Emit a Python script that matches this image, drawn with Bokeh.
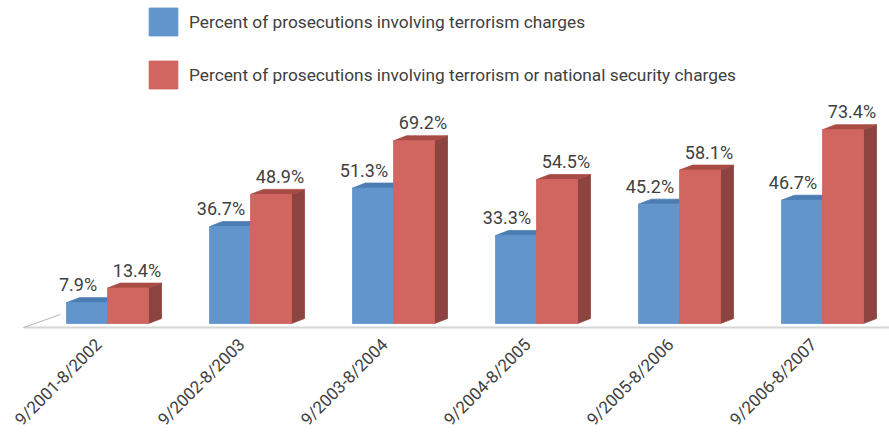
from math import pi
from bokeh.plotting import figure
from bokeh.models import ColumnDataSource, Legend, LegendItem, Range1d
from bokeh.core.properties import value
from bokeh.embed import file_html
from bokeh.resources import INLINE

# ---------------- data ----------------
categories = ["9/2001-8/2002", "9/2002-8/2003", "9/2003-8/2004",
              "9/2004-8/2005", "9/2005-8/2006", "9/2006-8/2007"]
terrorism = [7.9, 36.7, 51.3, 33.3, 45.2, 46.7]
terror_or_natsec = [13.4, 48.9, 69.2, 54.5, 58.1, 73.4]
series_names = ["Percent of prosecutions involving terrorism charges",
                "Percent of prosecutions involving terrorism or national security charges"]

# ---------------- geometry / style ----------------
W, H = 889, 434
PX_X = 143.0          # pixels per category
PX_Y = 2.64           # pixels per percent
X0 = 107.0            # first category centre, px from left of figure
Y0 = 323.0            # zero line, px from top of figure
FONT = "Roboto"
TXT = "#404040"

bw = 41 / PX_X        # bar width
ddx = 13 / PX_X       # depth offset x
ddy = 5 / PX_Y        # depth offset y

p = figure(width=W, height=H, title=None, output_backend="svg", toolbar_location=None,
           x_range=Range1d(-X0 / PX_X, (W - X0) / PX_X),
           y_range=Range1d(-(H - Y0) / PX_Y, Y0 / PX_Y),
           min_border=0, outline_line_color=None)
p.axis.visible = False
p.grid.visible = False
p.background_fill_color = "white"
p.border_fill_color = "white"

n = len(categories)
idx = list(range(n))

# ---------------- floor ----------------
fy = -4 / PX_Y
fx0 = -84 / PX_X
fx1 = (n - 1) + 777 / PX_X
fdx, fdy = 37 / PX_X, 13 / PX_Y
p.line([fx0, fx1], [fy, fy], line_color="#d6d6d6", line_width=2)
p.line([fx0, fx0 + fdx], [fy, fy + fdy], line_color="#b4b4b4", line_width=1)
p.line([fx1, fx1 + fdx], [fy, fy + fdy], line_color="#b4b4b4", line_width=1)

# ---------------- 3D bars ----------------
def draw_series(vals, offset, front, top, side):
    xc = [i + offset for i in idx]
    side_src = ColumnDataSource(dict(
        xs=[[x + bw / 2, x + bw / 2 + ddx, x + bw / 2 + ddx, x + bw / 2] for x in xc],
        ys=[[0, ddy, v + ddy, v] for v in vals]))
    top_src = ColumnDataSource(dict(
        xs=[[x - bw / 2, x + bw / 2, x + bw / 2 + ddx, x - bw / 2 + ddx] for x in xc],
        ys=[[v, v, v + ddy, v + ddy] for v in vals]))
    p.patches("xs", "ys", source=side_src, fill_color=side, line_color=side, line_width=0.8)
    p.patches("xs", "ys", source=top_src, fill_color=top, line_color=top, line_width=0.8)
    r = p.vbar(x=xc, top=vals, bottom=0, width=bw, fill_color=front,
               line_color=front, line_width=0.8)
    return r

blue = draw_series(terrorism, -bw / 2, "#6195cb", "#4b7cb2", "#3e6898")
red = draw_series(terror_or_natsec, bw / 2, "#d1655f", "#a94b45", "#8d4440")

# ---------------- value labels ----------------
lab_off = 9 / PX_X
lab_dy = 18 / PX_Y
p.text(x=[i - bw / 2 - lab_off for i in idx], y=[v + lab_dy for v in terrorism],
       text=[f"{v:.1f}%" for v in terrorism], text_align="center",
       text_baseline="alphabetic", text_font=value(FONT), text_font_size="18px",
       text_color=TXT)
p.text(x=[i + bw / 2 + lab_off for i in idx], y=[v + lab_dy for v in terror_or_natsec],
       text=[f"{v:.1f}%" for v in terror_or_natsec], text_align="center",
       text_baseline="alphabetic", text_font=value(FONT), text_font_size="18px",
       text_color=TXT)

# ---------------- category labels ----------------
p.text(x=[i - 9 / PX_X for i in idx], y=[-18 / PX_Y] * n, text=categories,
       angle=pi / 4, text_align="right", text_baseline="middle",
       text_font=value(FONT), text_font_size="17px", text_color=TXT)

# ---------------- legend ----------------
legend = Legend(items=[LegendItem(label=series_names[0], renderers=[blue]),
                       LegendItem(label=series_names[1], renderers=[red])],
                location=(145, 342), orientation="vertical",
                glyph_width=36, glyph_height=35, label_height=35, spacing=18,
                label_standoff=8, padding=0, margin=0,
                border_line_color=None, background_fill_alpha=0,
                label_text_font=FONT, label_text_font_size="17.3px",
                label_text_color=TXT)
p.add_layout(legend, "center")

open("out.html", "w").write(file_html(p, INLINE))
